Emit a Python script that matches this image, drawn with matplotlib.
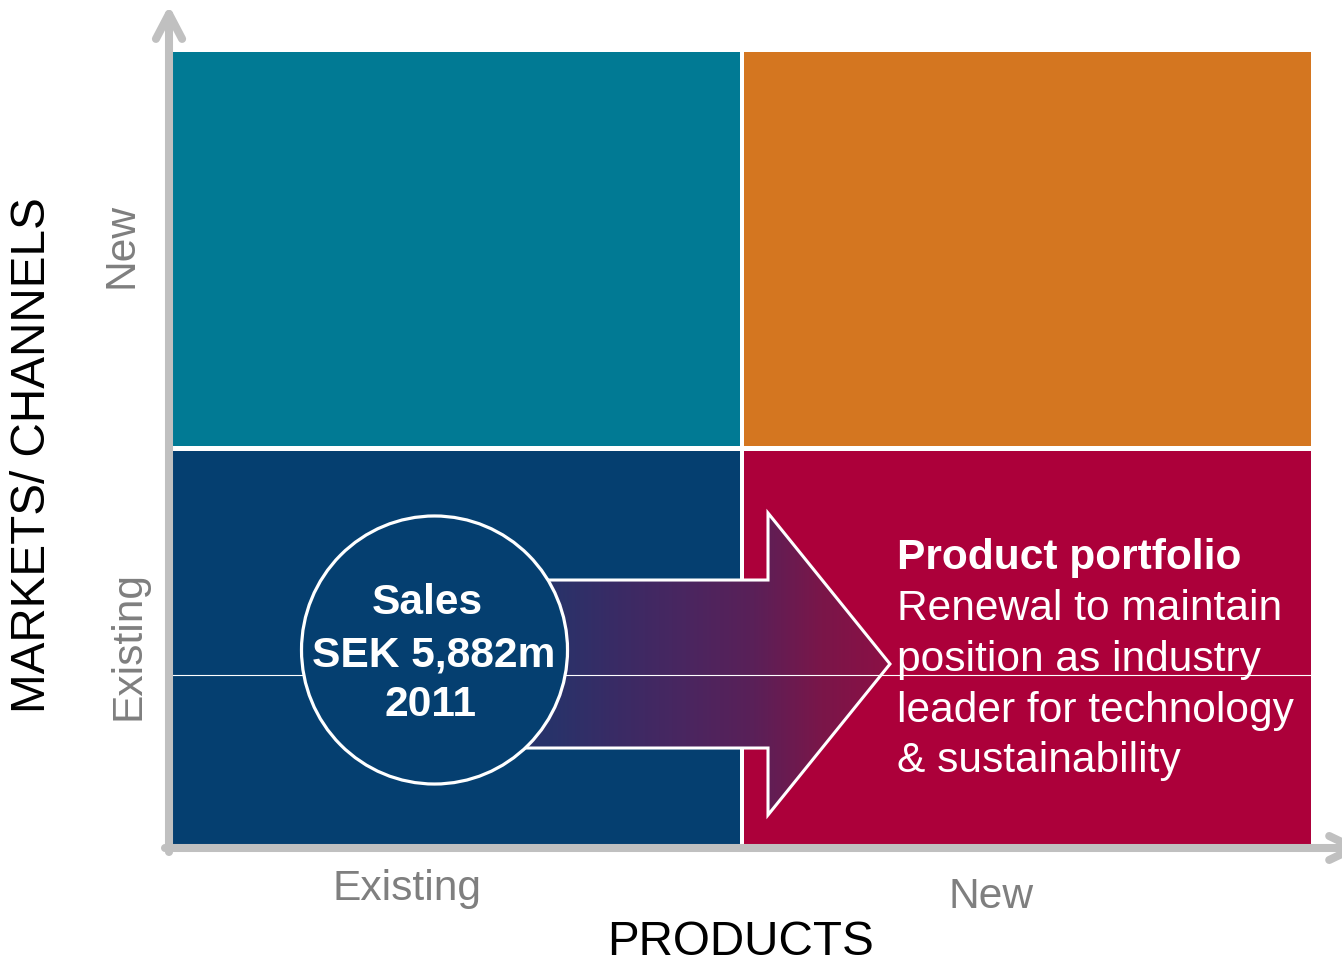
import numpy as np
import matplotlib
matplotlib.use("Agg")
import matplotlib.pyplot as plt
from matplotlib.patches import Rectangle, Ellipse, Polygon
from matplotlib.colors import LinearSegmentedColormap

plt.rcParams['font.family'] = ['Liberation Sans', 'DejaVu Sans']

# --- data ---
products = ["Existing", "New"]
markets = ["Existing", "New"]
# cell colours, rows = markets (Existing, New), cols = products (Existing, New)
cell_colors = [["#053f70", "#ac003a"],
               ["#017a94", "#d47620"]]
x_title = "PRODUCTS"
y_title = "MARKETS/ CHANNELS"
circle_lines = ["Sales", "SEK 5,882m", "2011"]
note_title = "Product portfolio"
note_lines = ["Renewal to maintain", "position as industry",
              "leader for technology", "& sustainability"]
grad_stops = ["#28336a", "#3a2b65", "#4a2660", "#5a2058", "#7a1649", "#8c0f45"]

AXIS_GRAY = "#c0c0c0"
TICK_GRAY = "#7f7f7f"
FS = 30.6

fig = plt.figure(figsize=(13.42, 9.64), dpi=100)
ax = fig.add_axes([173 / 1342, 119 / 964, 1138 / 1342, 793 / 964])
ax.set_xlim(0, 2)
ax.set_ylim(0, 2)
ax.axis("off")

# quadrant cells
gx, gy = 0.0031, 0.0063
for r in range(2):
    for c in range(2):
        x0 = c + (gx if c == 1 else 0)
        y0 = r + (gy if r == 1 else 0)
        ax.add_patch(Rectangle((x0, y0), 1 - gx, 1 - gy,
                               facecolor=cell_colors[r][c],
                               edgecolor="none", zorder=1))

# axis arrows
arrow_kw = dict(color=AXIS_GRAY, lw=5.8, solid_capstyle="round",
                solid_joinstyle="round", clip_on=False, zorder=2)
ax.plot([-0.007, -0.007], [-0.018, 2.096], **arrow_kw)
ax.plot([-0.030, -0.007, 0.016], [2.033, 2.096, 2.033], **arrow_kw)
ax.plot([-0.014, 2.076], [-0.0076, -0.0076], **arrow_kw)
ax.plot([2.032, 2.076, 2.032], [0.0227, -0.0076, -0.0378], **arrow_kw)

# gradient arrow
xb, xh, xt = 0.575, 1.0457, 1.2601
yb0, yb1, yh0, yh1, yc = 0.2446, 0.6683, 0.0757, 0.8373, 0.4565
arrow_pts = [(xb, yb1), (xh, yb1), (xh, yh1), (xt, yc),
             (xh, yh0), (xh, yb0), (xb, yb0)]
poly = Polygon(arrow_pts, closed=True, facecolor="none", edgecolor="white",
               lw=2.2, joinstyle="miter", zorder=4)
ax.add_patch(poly)
cmap = LinearSegmentedColormap.from_list("arr", grad_stops)
grad = np.linspace(0, 1, 256).reshape(1, -1)
im = ax.imshow(grad, cmap=cmap, extent=[0.66, xt, yh0, yh1], aspect="auto",
               origin="lower", zorder=3, interpolation="bilinear")
clip = Polygon(arrow_pts, closed=True, transform=ax.transData)
im.set_clip_path(clip)
ax.add_patch(Rectangle((xb, yb0), 0.66 - xb, yb1 - yb0, facecolor=grad_stops[0],
                       edgecolor="none", zorder=3))
ax.set_xlim(0, 2)
ax.set_ylim(0, 2)

# thin white line
ax.plot([0, 2], [0.43, 0.43], color="white", lw=0.8, zorder=5)

# circle
ax.add_patch(Ellipse((0.4596, 0.4918), 0.4675, 0.676, facecolor=cell_colors[0][0],
                     edgecolor="white", lw=2.3, zorder=6))
circ_x = [0.4473, 0.4578, 0.4534]
circ_y = [0.5826, 0.4514, 0.3253]
for s, x, y in zip(circle_lines, circ_x, circ_y):
    ax.text(x, y, s, color="white", fontsize=FS, fontweight="bold",
            ha="center", va="baseline", zorder=7)

# note text
note_y = [0.6961, 0.5675, 0.4388, 0.3102, 0.1841]
ax.text(1.2724, note_y[0], note_title, color="white", fontsize=FS,
        fontweight="bold", ha="left", va="baseline", zorder=7)
for s, y in zip(note_lines, note_y[1:]):
    ax.text(1.2724, y, s, color="white", fontsize=FS, ha="left",
            va="baseline", zorder=7)

# tick labels
ax.text(0.4112, -0.1387, products[0], color=TICK_GRAY, fontsize=FS,
        ha="center", va="baseline", clip_on=False)
ax.text(1.4385, -0.1589, products[1], color=TICK_GRAY, fontsize=FS,
        ha="center", va="baseline", clip_on=False)
ax.text(-0.058, 0.504, markets[0], color=TICK_GRAY, fontsize=FS, rotation=90,
        rotation_mode="anchor", ha="center", va="baseline", clip_on=False)
ax.text(-0.0703, 1.511, markets[1], color=TICK_GRAY, fontsize=FS, rotation=90,
        rotation_mode="anchor", ha="center", va="baseline", clip_on=False)

# axis titles
ax.text(0.9965, -0.2775, x_title, color="black", fontsize=34.3,
        ha="center", va="baseline", clip_on=False)
ax.text(-0.225, 0.9836, y_title, color="black", fontsize=34.3, rotation=90,
        rotation_mode="anchor", ha="center", va="baseline", clip_on=False)

fig.savefig("out.png", dpi=100)
